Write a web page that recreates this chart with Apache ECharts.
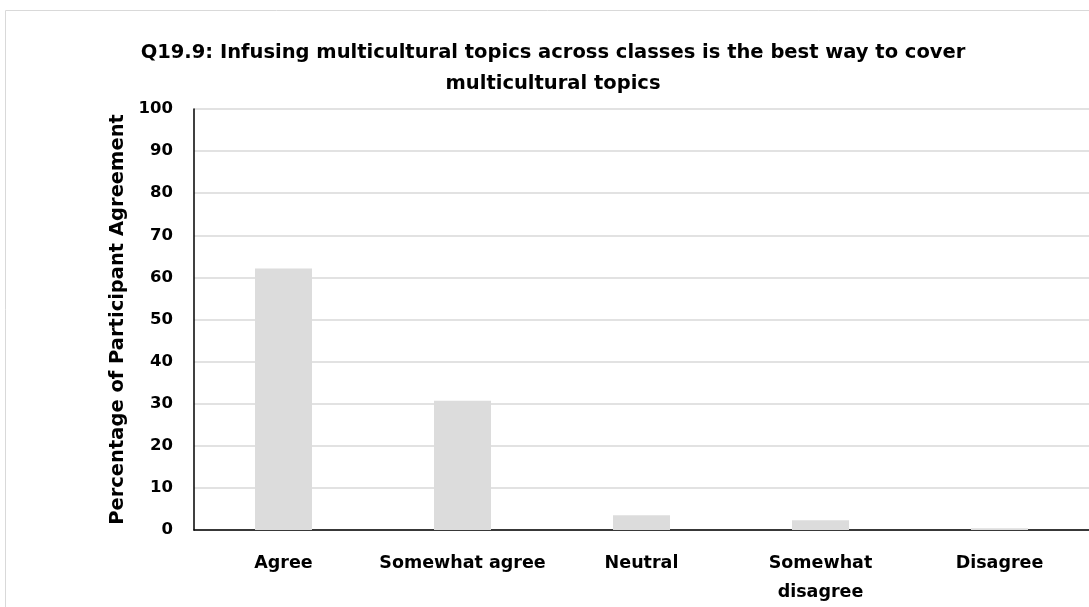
<!DOCTYPE html>
<html><head><meta charset="utf-8">
<script src="https://cdn.jsdelivr.net/npm/echarts@6/dist/echarts.min.js"></script>
<style>html,body{margin:0;padding:0;background:#fff}#c{width:1089px;height:607px}</style>
</head><body><div id="c"></div>
<script>
const categories = ['Agree', 'Somewhat agree', 'Neutral', 'Somewhat\ndisagree', 'Disagree'];
const values = [62.1, 30.7, 3.5, 2.3, 0.4];
const titleText = 'Q19.9: Infusing multicultural topics across classes is the best way to cover\nmulticultural topics';
const yAxisTitle = 'Percentage of Participant Agreement';

const chart = echarts.init(document.getElementById('c'), null, {renderer: 'canvas'});
const FONT = 'DejaVu Sans';
chart.setOption({
  animation: false,
  graphic: [{type: 'rect', shape: {x: 5.5, y: 10.5, width: 1200, height: 700}, style: {fill: 'none', stroke: '#d9d9d9', lineWidth: 1}, z: -1}],
  title: {
    text: titleText, left: 548, top: 32, textAlign: 'center',
    textStyle: {fontFamily: FONT, fontWeight: 'bold', fontSize: 19.5, color: '#000', lineHeight: 31}
  },
  grid: {left: 194, top: 109, width: 905, bottom: 76, containLabel: false},
  xAxis: {
    type: 'category', data: categories,
    axisLine: {lineStyle: {color: '#000', width: 1.5}},
    axisTick: {show: false},
    axisLabel: {fontFamily: FONT, fontWeight: 'bold', fontSize: 17.5, color: '#000', margin: 19, lineHeight: 29, interval: 0}
  },
  yAxis: {
    type: 'value', min: 0, max: 100, interval: 10,
    name: yAxisTitle, nameLocation: 'middle', nameGap: 56, nameRotate: 90,
    nameTextStyle: {fontFamily: FONT, fontWeight: 'bold', fontSize: 19.5, color: '#000'},
    axisLine: {show: true, lineStyle: {color: '#000', width: 1.5}},
    axisTick: {show: false},
    axisLabel: {fontFamily: FONT, fontWeight: 'bold', fontSize: 16.5, color: '#000', margin: 21},
    splitLine: {lineStyle: {color: '#d9d9d9', width: 1.5}}
  },
  series: [{
    type: 'bar', data: values, barWidth: 57,
    itemStyle: {color: '#dcdcdc'}
  }]
});
</script></body></html>
